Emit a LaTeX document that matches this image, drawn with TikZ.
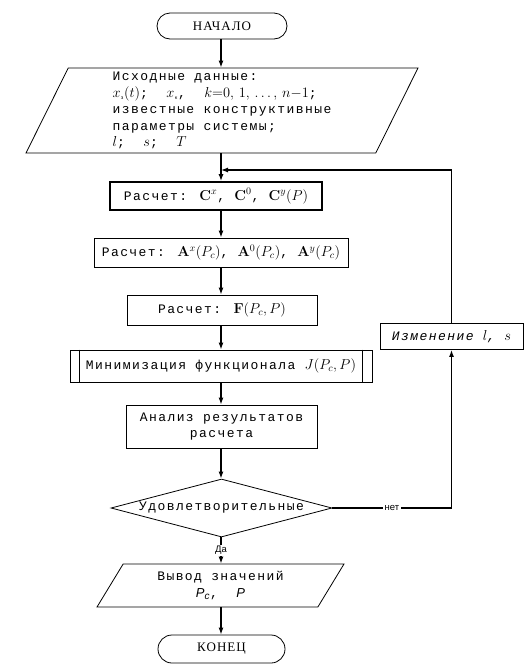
\documentclass[tikz,border=0pt]{standalone}
\usepackage[no-math]{fontspec}
\setmainfont{Liberation Mono}[LetterSpace=11]
\newfontfamily\termfont{Liberation Serif}[LetterSpace=8]
\newfontfamily\labelfont{Liberation Sans}
\usetikzlibrary{shapes.geometric,arrows.meta}
\DeclareMathSizes{13}{14.2}{10}{8}

\newcommand{\boxfont}{\fontsize{13}{16.5}\selectfont}

\tikzset{
	block/.style={draw, line width=.8pt, font=\boxfont, inner sep=3pt},
	term/.style={block, rectangle, rounded corners=13pt, minimum width=130pt, minimum height=26pt, font=\termfont\fontsize{13}{15}\selectfont},
	io/.style={block, trapezium, trapezium stretches body, align=left},
	proc/.style={block, rectangle, align=center},
	decide/.style={block, diamond, aspect=3.8, inner sep=0pt, minimum width=221pt, minimum height=58pt},
	flow/.style={line width=1.4pt, -{Latex[length=7pt,width=5pt]}},
	back/.style={line width=1.2pt, -{Latex[length=7pt,width=5pt]}},
	lbl/.style={fill=white, font=\labelfont\fontsize{9.5}{11}\selectfont, inner sep=1.5pt}
}

\begin{document}
\begin{tikzpicture}[x=1pt,y=-1pt]
	\useasboundingbox (0,0) rectangle (531,670);
	\coordinate (j) at (221,170);
	% blocks
	\node[term] (start) at (222,26) {НАЧАЛО};
	\node[io, trapezium left angle=63, trapezium right angle=117, minimum width=392pt, minimum height=85pt] (in) at (222,110.5)
		{Исходные данные:\\
		 $x_{\mbox{\tiny з}}(t)$;\ \ $x_{\mbox{\tiny к}}$,\ \ $k{=}0,\,1,\,\ldots,\,n{-}1$;\\
		 известные конструктивные\\
		 параметры системы;\\
		 $l$;\ \ $s$;\ \ $T$};
	\node[proc, line width=1.6pt, minimum width=212pt, minimum height=28pt] (b1) at (216,196)
		{Расчет: $\mathbf{C}^x$,\ $\mathbf{C}^0$,\ $\mathbf{C}^y(P)$};
	\node[proc, minimum width=254pt, minimum height=29pt, inner xsep=1pt] (b2) at (221,252.5)
		{Расчет: $\mathbf{A}^x(P_c)$,\ $\mathbf{A}^0(P_c)$,\ $\mathbf{A}^y(P_c)$};
	\node[proc, minimum width=190pt, minimum height=30pt] (b3) at (222,310)
		{Расчет: $\mathbf{F}(P_c,P)$};
	\node[proc, minimum width=302pt, minimum height=32pt] (b4) at (221,366)
		{Минимизация функционала $J(P_c,P)$};
	\draw[line width=1.6pt] ([xshift=10pt]b4.north west) -- ([xshift=10pt]b4.south west);
	\draw[line width=1.6pt] ([xshift=-10pt]b4.north east) -- ([xshift=-10pt]b4.south east);
	\node[proc, minimum width=191pt, minimum height=43pt] (b5) at (221.5,426.5)
		{Анализ результатов\\ расчета};
	\node[decide] (dec) at (221.5,508) {Удовлетворительные};
	\node[io, trapezium left angle=52.5, trapezium right angle=127.5, minimum width=247pt, minimum height=43pt, align=center] (out) at (220.5,585.5)
		{Вывод значений\\ {\labelfont\itshape P\textsubscript{c}},\ \ {\labelfont\itshape P}};
	\node[term, minimum width=127pt, minimum height=28pt, rounded corners=14pt] (end) at (221.5,649) {КОНЕЦ};
	\node[proc, minimum width=143pt, minimum height=26pt] (chg) at (451.5,336.5)
		{\itshape Изменение $l$,\ $s$};
	% connectors
	\draw[flow] (start.south -| j) -- (in.north -| j);
	\draw[flow] (in.south -| j) -- (b1.north -| j);
	\draw[flow] (b1.south -| j) -- (b2.north -| j);
	\draw[flow] (b2.south -| j) -- (b3.north -| j);
	\draw[flow] (b3.south -| j) -- (b4.north -| j);
	\draw[flow] (b4.south -| j) -- (b5.north -| j);
	\draw[flow] (b5.south -| j) -- (dec.north -| j);
	\draw[flow] (dec.south -| j) -- (out.north -| j) node[lbl, midway] {Да};
	\draw[flow] (out.south -| j) -- (end.north -| j);
	\draw[back] (dec.east) -| (chg.south) node[lbl, pos=.25] {нет};
	\draw[back] (chg.north) |- (j);
\end{tikzpicture}
\end{document}
